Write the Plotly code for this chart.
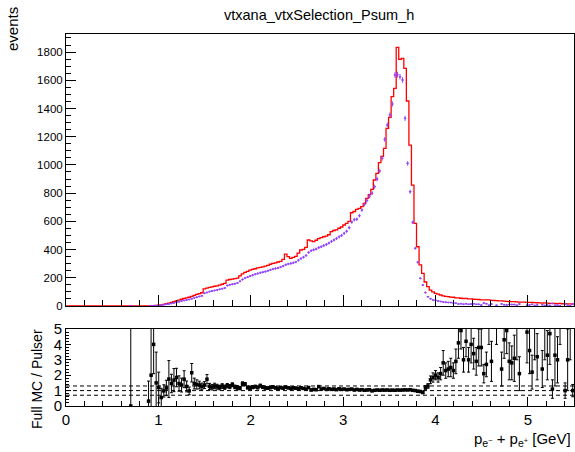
import plotly.graph_objects as go

# ---- binning (histogram definition) ----
n_bins = 200
x_min, x_max = 0.0, 5.5

# ---- Full MC (red step histogram), events per bin ----
mc_counts = [
    0, 0, 0, 0, 0, 0, 0, 0, 0, 0,
    0, 0, 0, 0, 0, 0, 0, 0, 0, 0,
    0, 0, 0, 0, 0, 0, 0, 0, 0, 0,
    0, 0, 0, 1, 2, 4, 6, 8, 12, 16,
    20, 25, 30, 37, 42, 48, 53, 58, 62, 68,
    76, 82, 88, 94, 122, 126, 132, 135, 140, 143,
    148, 154, 160, 184, 188, 190, 194, 198, 214, 228,
    238, 246, 254, 260, 264, 270, 274, 278, 282, 288,
    296, 302, 306, 312, 316, 330, 368, 350, 338, 345,
    352, 375, 397, 402, 415, 468, 462, 456, 466, 478,
    485, 491, 495, 505, 527, 535, 540, 551, 560, 574,
    586, 600, 661, 670, 685, 692, 705, 728, 763, 790,
    827, 893, 940, 1016, 1060, 1117, 1259, 1337, 1484, 1543,
    1833, 1748, 1755, 1684, 1453, 1141, 857, 586, 420, 291,
    231, 170, 137, 113, 100, 90, 84, 78, 72, 68,
    66, 63, 62, 58, 57, 55, 53, 54, 50, 50,
    48, 47, 46, 44, 44, 43, 43, 40, 39, 38,
    36, 36, 34, 33, 32, 31, 31, 29, 28, 28,
    27, 26, 25, 26, 24, 23, 22, 21, 22, 20,
    19, 19, 18, 17, 18, 16, 16, 15, 15, 14,
]

# ---- Pulser data (purple points), events per bin and errors ----
data_counts = [
    0, 0, 0, 0, 0, 0, 0, 0, 0, 0,
    0, 0, 0, 0, 0, 0, 0, 0, 0, 0,
    0, 0, 0, 0, 0, 1, 0, 0, 0, 0,
    0, 0, 0, 1, 1, 2, 4, 6, 9, 12,
    14, 18, 22, 26, 30, 35, 39, 43, 46, 51,
    58, 62, 68, 72, 90, 96, 102, 106, 110, 114,
    118, 123, 128, 145, 150, 154, 158, 163, 175, 188,
    198, 205, 212, 218, 225, 230, 236, 240, 244, 250,
    256, 262, 266, 270, 276, 283, 292, 298, 302, 306,
    312, 324, 336, 346, 358, 380, 392, 398, 404, 414,
    420, 428, 436, 446, 458, 468, 478, 490, 500, 515,
    530, 555, 595, 612, 615, 640, 680, 720, 748, 778,
    800, 846, 900, 957, 1047, 1181, 1283, 1354, 1432, 1637,
    1640, 1625, 1602, 1330, 1011, 810, 593, 409, 310, 196,
    149, 95, 66, 52, 43, 40, 36, 32, 29, 27,
    25, 24, 22, 20, 14, 16, 13, 16, 12, 14,
    16, 12, 12, 7, 21, 16, 6, 14, 0, 5,
    0, 15, 8, 7, 11, 11, 10, 5, 14, 0,
    0, 5, 7, 12, 3, 7, 0, 9, 4, 6,
    4, 17, 5, 6, 2, 0, 16, 5, 2, 14,
]
data_err = [
    0, 0, 0, 0, 0, 0, 0, 0, 0, 0,
    0, 0, 0, 0, 0, 0, 0, 0, 0, 0,
    0, 0, 0, 0, 0, 0.5, 0, 0, 0, 0,
    0, 0, 0, 0.5, 0.5, 0.7, 1.0, 1.2, 1.5, 1.7,
    1.9, 2.1, 2.3, 2.5, 2.7, 3.0, 3.1, 3.3, 3.4, 3.6,
    3.8, 3.9, 4.1, 4.2, 4.7, 4.9, 5.0, 5.1, 5.2, 5.3,
    5.4, 5.5, 5.7, 6.0, 6.1, 6.2, 6.3, 6.4, 6.6, 6.9,
    7.0, 7.2, 7.3, 7.4, 7.5, 7.6, 7.7, 7.7, 7.8, 7.9,
    8.0, 8.1, 8.2, 8.2, 8.3, 8.4, 8.5, 8.6, 8.7, 8.7,
    8.8, 9.0, 9.2, 9.3, 9.5, 9.7, 9.9, 10.0, 10.0, 10.2,
    10.2, 10.3, 10.4, 10.6, 10.7, 10.8, 10.9, 11.1, 11.2, 11.3,
    11.5, 11.8, 12.2, 12.4, 12.4, 12.6, 13.0, 13.4, 13.7, 13.9,
    14.1, 14.5, 15.0, 15.5, 16.2, 17.2, 17.9, 18.4, 18.9, 20.2,
    20.2, 20.2, 20.0, 18.2, 15.9, 14.2, 12.2, 10.1, 8.8, 7.0,
    6.1, 4.9, 4.1, 3.6, 3.3, 3.2, 3.0, 2.8, 2.7, 2.6,
    2.5, 2.4, 2.3, 2.2, 1.9, 2.0, 1.8, 2.0, 1.7, 1.9,
    2.0, 1.7, 1.7, 1.3, 2.3, 2.0, 1.2, 1.9, 0, 1.1,
    0, 1.9, 1.4, 1.3, 1.7, 1.7, 1.6, 1.1, 1.9, 0,
    0, 1.1, 1.3, 1.7, 0.9, 1.3, 0, 1.5, 1.0, 1.2,
    1.0, 2.1, 1.1, 1.2, 0.7, 0, 2.0, 1.1, 0.7, 1.9,
]

# ---- Ratio Full MC / Pulser (None = no point drawn) ----
N = None
ratio_vals = [
    N, N, N, N, N, N, N, N, N, N,
    N, N, N, N, N, N, N, N, N, N,
    N, N, N, N, N, 0.0, N, N, N, N,
    N, N, 0.32, 2.0, 4.0, 1.5, 1.2, 0.55, 0.98, 1.17,
    1.75, 1.46, 1.68, 1.85, 1.46, 1.36, 1.74, 1.27, 0.98, 2.16,
    1.46, 1.40, 1.36, 1.27, 1.36, 1.74, 1.27, 1.22, 1.30, 1.25,
    1.20, 1.30, 1.22, 1.32, 1.26, 1.38, 1.24, 1.20, 1.16, 1.45,
    1.42, 1.20, 1.16, 1.22, 1.26, 1.20, 1.32, 1.22, 1.18, 1.16,
    1.20, 1.24, 1.18, 1.14, 1.20, 1.16, 1.22, 1.18, 1.14, 1.18,
    1.16, 1.12, 1.18, 1.14, 1.10, 1.20, 1.04, 1.08, 1.06, 1.26,
    1.10, 1.14, 1.08, 1.12, 1.08, 1.10, 1.06, 1.12, 1.08, 1.10,
    1.06, 1.08, 1.10, 1.04, 1.08, 1.04, 1.06, 1.02, 1.04, 1.06,
    0.98, 1.02, 1.04, 1.02, 1.04, 1.03, 1.04, 1.02, 1.03, 1.02,
    1.04, 1.03, 1.04, 1.05, 1.04, 1.06, 1.02, 1.00, 0.96, 0.94,
    0.88, 1.20, 1.30, 1.70, 1.85, 2.0, 1.85, 2.1, 2.8, 2.3,
    2.4, 2.5, 2.3, 2.9, 4.1, 4.9, 3.0, 4.2, 3.0, 4.0,
    3.4, 2.9, 3.8, 3.8, 2.1, 2.7, 7.0, 2.9, N, 8.0,
    N, 2.4, 4.3, 4.9, 2.9, 2.8, 3.1, 6.0, 2.1, N,
    N, 4.8, 3.6, 2.2, 7.0, 3.2, N, 2.4, 6.0, 3.3,
    4.7, 1.1, 3.3, 3.0, 8.0, N, 1.0, 3.0, 6.0, 1.0,
]
ratio_err = [
    0, 0, 0, 0, 0, 0, 0, 0, 0, 0,
    0, 0, 0, 0, 0, 0, 0, 0, 0, 0,
    0, 0, 0, 0, 0, 6.0, 0, 0, 0, 0,
    0, 0, 1.3, 3.5, 1.9, 2.0, 1.0, 0.6, 0.4, 0.5,
    1.2, 0.6, 0.75, 0.6, 0.5, 0.45, 0.55, 0.35, 0.25, 0.6,
    0.35, 0.3, 0.25, 0.22, 0.22, 0.3, 0.2, 0.18, 0.18, 0.16,
    0.15, 0.15, 0.14, 0.14, 0.13, 0.13, 0.12, 0.12, 0.11, 0.12,
    0.10, 0.10, 0.10, 0.10, 0.09, 0.09, 0.10, 0.09, 0.09, 0.09,
    0.08, 0.08, 0.08, 0.08, 0.08, 0.07, 0.08, 0.07, 0.07, 0.07,
    0.07, 0.07, 0.07, 0.06, 0.06, 0.07, 0.06, 0.06, 0.06, 0.07,
    0.06, 0.06, 0.06, 0.06, 0.06, 0.06, 0.05, 0.06, 0.05, 0.05,
    0.05, 0.05, 0.05, 0.05, 0.05, 0.05, 0.05, 0.05, 0.05, 0.05,
    0.04, 0.04, 0.04, 0.04, 0.04, 0.04, 0.04, 0.03, 0.03, 0.03,
    0.03, 0.03, 0.03, 0.03, 0.03, 0.04, 0.04, 0.05, 0.06, 0.07,
    0.08, 0.12, 0.15, 0.25, 0.3, 0.3, 0.3, 0.4, 0.8, 0.5,
    0.5, 0.6, 0.5, 0.8, 1.0, 1.2, 0.8, 1.0, 0.8, 1.2,
    1.0, 0.9, 1.2, 1.2, 0.6, 0.8, 3.0, 1.3, 0, 4.0,
    0, 1.1, 1.2, 1.5, 1.2, 1.1, 1.5, 3.0, 1.1, 0,
    0, 2.0, 1.5, 1.1, 4.0, 1.5, 0, 1.2, 3.0, 1.6,
    2.0, 0.6, 2.0, 1.5, 4.0, 0, 0.5, 2.0, 3.0, 0.4,
]

ref_lines = [0.7, 1.0, 1.3]

title_text = "vtxana_vtxSelection_Psum_h"
ytitle_top = "events"
ytitle_bot = "Full MC / Pulser"
xtitle = "p<sub>e<sup>−</sup></sub> + p<sub>e<sup>+</sup></sub> [GeV]"

# ---- derived binning ----
bw = (x_max - x_min) / n_bins
edges = [x_min + i * bw for i in range(n_bins + 1)]
centers = [x_min + (i + 0.5) * bw for i in range(n_bins)]

FONT = "Liberation Sans, Arial, Helvetica, sans-serif"
RED = "#ff0000"
PURPLE = "#9447ff"

fig = go.Figure()

# red step histogram
fig.add_trace(go.Scatter(
    x=edges, y=mc_counts + [mc_counts[-1]],
    mode="lines", line=dict(color=RED, width=1.3, shape="hv"),
    xaxis="x", yaxis="y", showlegend=False, hoverinfo="skip"))

# purple data points
dx = [centers[i] for i in range(n_bins) if data_counts[i] > 0]
dy = [data_counts[i] for i in range(n_bins) if data_counts[i] > 0]
de = [data_err[i] for i in range(n_bins) if data_counts[i] > 0]
fig.add_trace(go.Scatter(
    x=dx, y=dy, mode="markers",
    marker=dict(color=PURPLE, size=2),
    error_y=dict(type="data", array=de, color=PURPLE, thickness=1, width=0),
    error_x=dict(type="constant", value=bw / 2, color=PURPLE, thickness=1, width=0),
    xaxis="x", yaxis="y", showlegend=False, hoverinfo="skip"))

# ratio points
rx = [centers[i] for i in range(n_bins) if ratio_vals[i] is not None]
ry = [ratio_vals[i] for i in range(n_bins) if ratio_vals[i] is not None]
re = [ratio_err[i] for i in range(n_bins) if ratio_vals[i] is not None]
fig.add_trace(go.Scatter(
    x=rx, y=ry, mode="markers",
    marker=dict(color="black", size=3.5, symbol="square"),
    error_y=dict(type="data", array=re, color="black", thickness=1, width=1.5),
    xaxis="x2", yaxis="y2", showlegend=False, hoverinfo="skip", cliponaxis=True))

for v in ref_lines:
    fig.add_shape(type="line", xref="x2", yref="y2", x0=x_min, x1=x_max, y0=v, y1=v,
                  line=dict(color="black", width=1, dash="4px,3px"))

# geometry in page pixels (body margin removed by post script)
W, H = 575, 452
frame_l, frame_r, frame_t, frame_b = 66, 574, 34, 406
L, R, T, B = frame_l, W - frame_r, frame_t, H - frame_b
plot_h = frame_b - frame_t
plot_w = frame_r - frame_l
def py(p):
    return (frame_b - p) / plot_h
def px(p):
    return (p - frame_l) / plot_w

axis_common = dict(showline=True, linecolor="black", linewidth=1, mirror=True,
                   showgrid=False, zeroline=False, ticks="inside", tickcolor="black",
                   automargin=False)

fig.update_layout(
    width=W, height=H,
    margin=dict(l=L, r=R, t=T, b=B, autoexpand=False),
    paper_bgcolor="white", plot_bgcolor="white",
    font=dict(family=FONT, color="black"),
    xaxis=dict(domain=[0, 1], anchor="y", range=[x_min, x_max], dtick=1, tick0=0,
               ticklen=11, showticklabels=False,
               minor=dict(dtick=0.2, ticklen=6, ticks="inside", tickcolor="black"),
               **axis_common),
    yaxis=dict(domain=[py(306), 1], anchor="x", range=[0, 1928], dtick=200, tick0=0,
               ticklen=10, tickfont=dict(size=11.5),
               minor=dict(dtick=50, ticklen=5, ticks="inside", tickcolor="black"),
               **axis_common),
    xaxis2=dict(domain=[0, 1], anchor="y2", range=[x_min, x_max], dtick=1, tick0=0,
                ticklen=9, tickfont=dict(size=15),
                minor=dict(dtick=0.2, ticklen=5, ticks="inside", tickcolor="black"),
                **axis_common),
    yaxis2=dict(domain=[0, py(329)], anchor="x2", range=[0, 5], dtick=1, tick0=0,
                ticklen=5, tickfont=dict(size=15),
                minor=dict(dtick=0.2, ticklen=3, ticks="inside", tickcolor="black"),
                **axis_common),
)

ann = dict(xref="paper", yref="paper", showarrow=False)
fig.add_annotation(text=title_text, x=px(319), y=py(15), xanchor="center", yanchor="middle",
                   font=dict(family=FONT, size=14.5, color="black"), **ann)
fig.add_annotation(text=ytitle_top, x=px(12), y=py(29), xanchor="center", yanchor="middle",
                   textangle=-90, font=dict(family=FONT, size=15, color="black"), **ann)
fig.add_annotation(text=ytitle_bot, x=px(37), y=py(379), xanchor="center", yanchor="middle",
                   textangle=-90, font=dict(family=FONT, size=14, color="black"), **ann)
fig.add_annotation(text=xtitle, x=px(573), y=py(440), xanchor="right", yanchor="middle",
                   font=dict(family=FONT, size=15, color="black"), **ann)

fig.write_html(
    "out.html",
    config={"displayModeBar": False, "staticPlot": True},
    post_script="document.body.style.margin='0px';document.body.style.overflow='hidden';",
)
